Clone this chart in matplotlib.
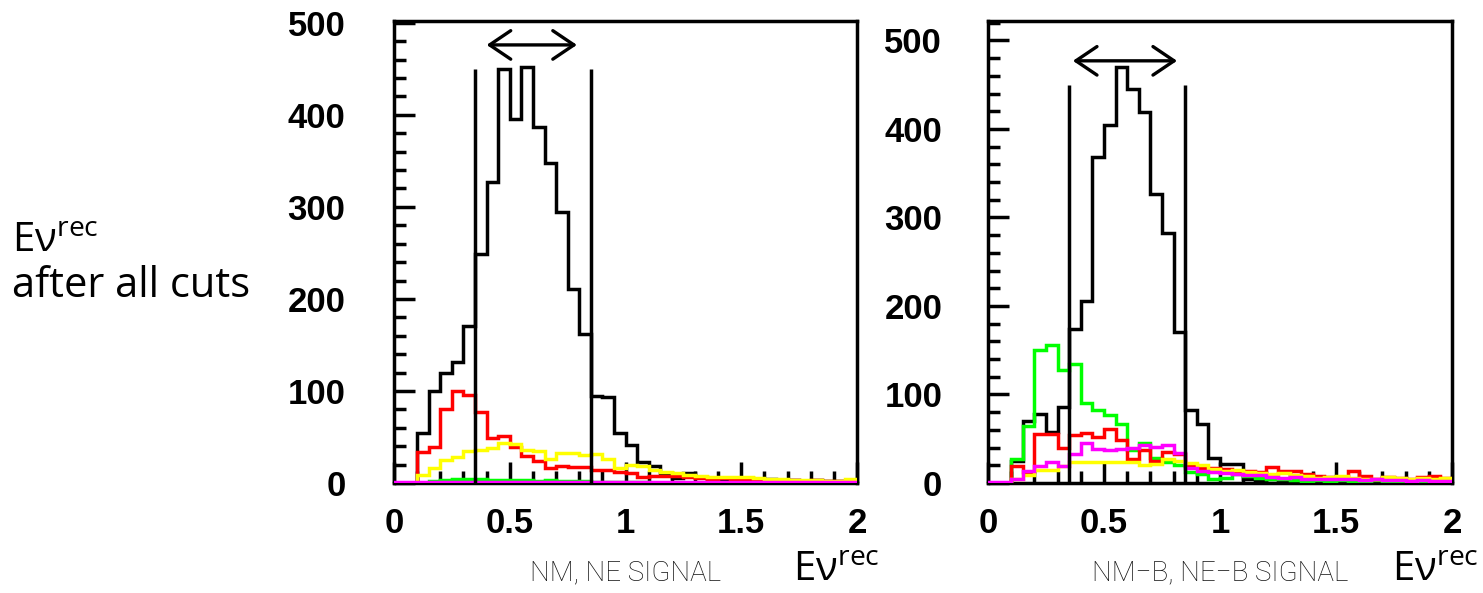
import matplotlib
matplotlib.use("Agg")
from matplotlib import pyplot as plt
from matplotlib.ticker import MultipleLocator
import numpy as np

# Reconstructed neutrino energy, 40 bins of 0.05 from 0 to 2
edges = np.linspace(0, 2, 41)

# NM, NE signal sample
black_nm = [0, 0, 54, 100, 120, 131, 171, 249, 327, 450, 395, 452, 387, 348, 295, 211,
            162, 95, 93, 54, 41, 23, 18, 9, 5, 11, 6, 4, 3, 4, 5, 3, 4, 2, 3, 2, 3, 2, 2, 1]
red_nm = [0, 0, 34, 39, 80, 100, 96, 77, 49, 51, 39, 29, 24, 16, 19, 17, 17, 14, 14, 12,
          11, 6, 8, 8, 8, 6, 5, 4, 5, 4, 4, 3, 3, 2, 3, 2, 3, 2, 2, 1]
yellow_nm = [0, 0, 9, 16, 25, 28, 35, 36, 38, 44, 42, 36, 35, 26, 33, 33, 30, 32, 26, 16,
             20, 18, 14, 12, 11, 9, 8, 7, 6, 7, 6, 5, 4, 4, 3, 3, 3, 2, 2, 4]
green_nm = [0, 0, 0, 2, 3, 4, 4, 4, 3, 3, 3, 3, 2, 3, 2, 2, 2, 1, 1, 1,
            1, 1, 0, 0, 0, 0, 0, 0, 0, 0, 0, 0, 0, 0, 0, 0, 0, 0, 0, 0]
magenta_nm = [1, 1, 1, 1, 1, 1, 1, 1, 1, 1, 1, 1, 1, 1, 1, 1, 1, 1, 1, 1,
              1, 1, 1, 1, 1, 1, 1, 1, 1, 1, 1, 1, 1, 1, 1, 1, 1, 1, 1, 1]

# NM-B, NE-B signal sample
black_nmb = [0, 0, 25, 70, 78, 58, 86, 174, 206, 368, 405, 470, 445, 419, 327, 283,
             171, 82, 67, 28, 22, 22, 4, 3, 5, 2, 4, 3, 2, 3, 2, 4, 2, 3, 2, 2, 3, 2, 2, 1]
green_nmb = [0, 0, 27, 64, 150, 156, 128, 135, 90, 82, 77, 67, 37, 45, 28, 24, 20, 12, 10, 5,
             6, 10, 8, 6, 4, 5, 3, 2, 3, 2, 3, 2, 1, 3, 2, 2, 3, 2, 1, 2]
red_nmb = [0, 0, 19, 12, 55, 55, 40, 54, 57, 52, 61, 49, 27, 37, 25, 35, 33, 19, 17, 17,
           16, 13, 13, 12, 18, 14, 14, 10, 8, 7, 6, 13, 8, 4, 7, 6, 4, 7, 8, 6]
yellow_nmb = [0, 0, 4, 9, 15, 15, 19, 24, 24, 24, 24, 24, 24, 20, 22, 27, 25, 23, 20, 16,
              14, 15, 12, 11, 10, 11, 9, 8, 6, 7, 8, 6, 5, 5, 7, 6, 5, 6, 5, 6]
magenta_nmb = [1, 1, 5, 13, 19, 24, 19, 33, 45, 38, 37, 38, 40, 43, 41, 43, 34, 17, 13, 12,
               11, 10, 9, 9, 7, 6, 7, 5, 5, 4, 5, 4, 3, 4, 3, 3, 2, 3, 2, 2]

# Energy window and arrow
window = [0.35, 0.85]
window_top = 450

plt.rcParams["mathtext.fontset"] = "custom"
plt.rcParams["mathtext.rm"] = "Open Sans"

fig = plt.figure(figsize=(14.83, 5.93), dpi=100)
ax1 = fig.add_axes([0.2657, 0.1855, 0.3122, 0.7791])
ax2 = fig.add_axes([0.6662, 0.1855, 0.3129, 0.7791])

lw = 2.5
tick_font = dict(family="Liberation Sans", weight="bold", size=25)


def draw_panel(ax, series, ymax, arrow, ypad):
    for vals, col in series:
        ax.stairs(vals, edges, color=col, lw=lw, zorder=3)
    ax.vlines(window, 0, window_top, color="black", lw=lw, zorder=5)
    ax.annotate("", xy=(arrow[1], arrow[2]), xytext=(arrow[0], arrow[2]),
                arrowprops=dict(arrowstyle="<->,head_length=0.4,head_width=0.27",
                                lw=2.4, color="black", mutation_scale=38,
                                shrinkA=0, shrinkB=0))
    ax.set_xlim(0, 2)
    ax.set_ylim(0, ymax)
    ax.set_xticks([0, 0.5, 1, 1.5, 2], ["0", "0.5", "1", "1.5", "2"])
    ax.set_yticks([0, 100, 200, 300, 400, 500])
    ax.xaxis.set_minor_locator(MultipleLocator(0.1))
    ax.yaxis.set_minor_locator(MultipleLocator(20))
    ax.tick_params(which="both", direction="in", top=False, right=False, width=lw)
    ax.tick_params(which="major", length=15)
    ax.tick_params(which="minor", length=8.5)
    ax.tick_params(axis="y", which="major", pad=ypad)
    ax.tick_params(axis="x", which="major", pad=17)
    for lab in ax.get_xticklabels() + ax.get_yticklabels():
        lab.set_fontproperties(tick_font)
    for sp in ax.spines.values():
        sp.set_linewidth(lw)


draw_panel(ax1, [(black_nm, "black"), (green_nm, "#00ff00"), (red_nm, "#ff0000"),
                 (yellow_nm, "#ffff00"), (magenta_nm, "#ff00ff")],
           502, (0.40, 0.79, 476), 35)
draw_panel(ax2, [(black_nmb, "black"), (green_nmb, "#00ff00"), (red_nmb, "#ff0000"),
                 (yellow_nmb, "#ffff00"), (magenta_nmb, "#ff00ff")],
           522, (0.366, 0.815, 477), 33)

# Sample names under each panel
sub_font = dict(family="Roboto", weight="light", size=20, color="#111111")
fig.text(626 / 1483, 1 - 580 / 593, "NM, NE SIGNAL", ha="center", va="baseline", **sub_font)
fig.text(1220 / 1483, 1 - 580 / 593, "NM\u2212B, NE\u2212B SIGNAL", ha="center",
         va="baseline", **sub_font)

# Axis titles
big = dict(family="Open Sans", size=29, color="black")
ev = r"E$\mathregular{\nu^{rec}}$"
fig.text(793 / 1483, 0.003, ev, ha="left", va="bottom", **big)
fig.text(1392 / 1483, 0.003, ev, ha="left", va="bottom", **big)
fig.text(12 / 1483, 1 - 252 / 593, ev, ha="left", va="baseline", **big)
fig.text(12 / 1483, 1 - 297 / 593, "after all cuts", ha="left", va="baseline", **dict(big, size=30))

fig.savefig("out.png", dpi=100)
